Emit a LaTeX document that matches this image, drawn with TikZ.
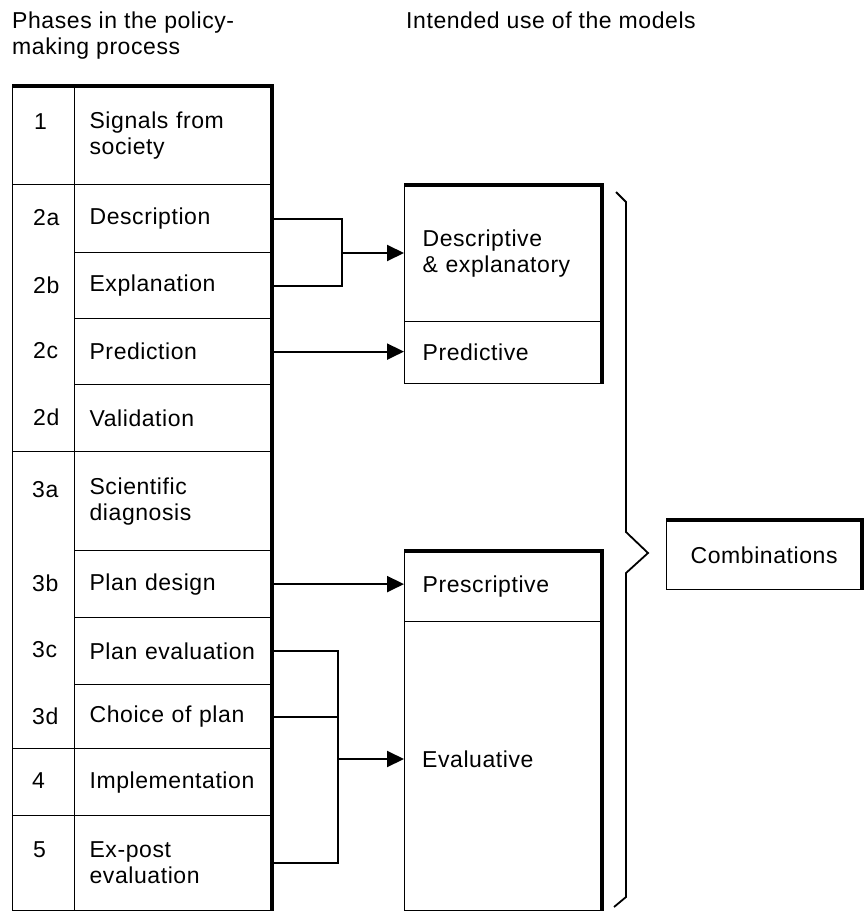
\documentclass[tikz,border=0pt]{standalone}
\usepackage{fontspec}
\setmainfont[LetterSpace=2.5]{Liberation Sans}
\usetikzlibrary{arrows.meta}

\begin{document}
\begin{tikzpicture}[x=1pt,y=-1pt,
  every node/.style={font=\fontsize{23}{26}\selectfont},
  numcell/.style={draw, line width=1.2pt, minimum width=62pt, inner sep=0pt, anchor=north west},
  numtxt/.style={anchor=west, inner sep=0pt},
  labcell/.style={draw, line width=1.2pt, text width=167pt, inner xsep=15pt, inner ysep=0pt, align=left, anchor=north west},
  usebox/.style={draw, line width=1.2pt, text width=161pt, inner xsep=18pt, inner ysep=0pt, align=left, anchor=north west},
  heavy/.style={line width=4pt, line join=miter},
  conn/.style={line width=2pt},
  arr/.style={conn, -{Triangle[length=17pt,width=16pt]}},
  bracepath/.style={line width=1.8pt, line join=miter}]
\useasboundingbox (0,0) rectangle (864,912);

% column headings
\node[anchor=north west, align=left, inner sep=0pt] (hL) at (12,12) {Phases in the policy-\\making process};
\node[anchor=north west, inner sep=0pt] (hR) at (406,12) {Intended use of the models};

% phase number column
\node[numcell, minimum height=98pt] (n1) at (12,86) {};
\node[numcell, minimum height=267pt] (n2) at (12,184) {};
\node[numcell, minimum height=297pt] (n3) at (12,451) {};
\node[numcell, minimum height=67pt] (n4) at (12,748) {};
\node[numcell, minimum height=95pt] (n5) at (12,815) {};

\node[numtxt] (t1) at (34,122) {1};
\node[numtxt] (t2a) at (33,218) {2a};
\node[numtxt] (t2b) at (33,285) {2b};
\node[numtxt] (t2c) at (33,351) {2c};
\node[numtxt] (t2d) at (33,417) {2d};
\node[numtxt] (t3a) at (32,490) {3a};
\node[numtxt] (t3b) at (32,583) {3b};
\node[numtxt] (t3c) at (32,650) {3c};
\node[numtxt] (t3d) at (32,716) {3d};
\node[numtxt] (t4) at (32,781) {4};
\node[numtxt] (t5) at (33,850) {5};

% phase name column
\node[labcell, minimum height=98pt] (r1) at (74,86) {Signals from\\society};
\node[labcell, minimum height=68pt] (r2a) at (74,184) {Description};
\node[labcell, minimum height=66pt] (r2b) at (74,252) {Explanation};
\node[labcell, minimum height=66pt] (r2c) at (74,318) {Prediction};
\node[labcell, minimum height=67pt] (r2d) at (74,384) {Validation};
\node[labcell, minimum height=99pt] (r3a) at (74,451) {Scientific\\diagnosis};
\node[labcell, minimum height=67pt] (r3b) at (74,550) {Plan design};
\node[labcell, minimum height=67pt] (r3c) at (74,617) {Plan evaluation};
\node[labcell, minimum height=64pt] (r3d) at (74,684) {Choice of plan};
\node[labcell, minimum height=67pt] (r4) at (74,748) {Implementation};
\node[labcell, minimum height=95pt] (r5) at (74,815) {Ex-post\\evaluation};

\draw[heavy] (n1.north west) -- (r1.north east) -- (r5.south east);

% model use boxes
\node[usebox, minimum height=136pt] (bD) at (404,185) {Descriptive\\\& explanatory};
\node[usebox, minimum height=62pt] (bP) at (404,321) {Predictive};
\draw[heavy] (bD.north west) -- (bD.north east) -- (bP.south east);

\node[usebox, minimum height=70pt] (bPr) at (404,551) {Prescriptive};
\node[usebox, minimum height=289pt] (bE) at (404,621) {};
\node[numtxt] (tE) at (422,759) {Evaluative};
\draw[heavy] (bPr.north west) -- (bPr.north east) -- (bE.south east);

% combinations
\node[draw, line width=1.2pt, anchor=north west, minimum width=195pt, minimum height=69pt, inner sep=0pt] (comb) at (666,520) {Combinations};
\draw[heavy] (comb.north west) -- (comb.north east) -- (comb.south east);

% brace
\draw[bracepath] (616,192) -- (626,202) -- (626,532) -- (648,553) -- (626,573) -- (626,897) -- (614,907);

% connectors
\coordinate (jA) at (342,253);
\draw[conn] (r2a.east) -| (jA) |- (r2b.east);
\draw[arr] (jA) -- (jA -| bD.west);
\draw[arr] (r2c.east) -- (r2c.east -| bP.west);
\draw[arr] (r3b.east) -- (r3b.east -| bPr.west);
\coordinate (jE) at (338,759);
\draw[conn] (r3c.east) -| (jE) |- (r5.east);
\draw[conn] (r3d.east) -- (r3d.east -| jE);
\draw[arr] (jE) -- (jE -| bE.west);
\end{tikzpicture}
\end{document}
